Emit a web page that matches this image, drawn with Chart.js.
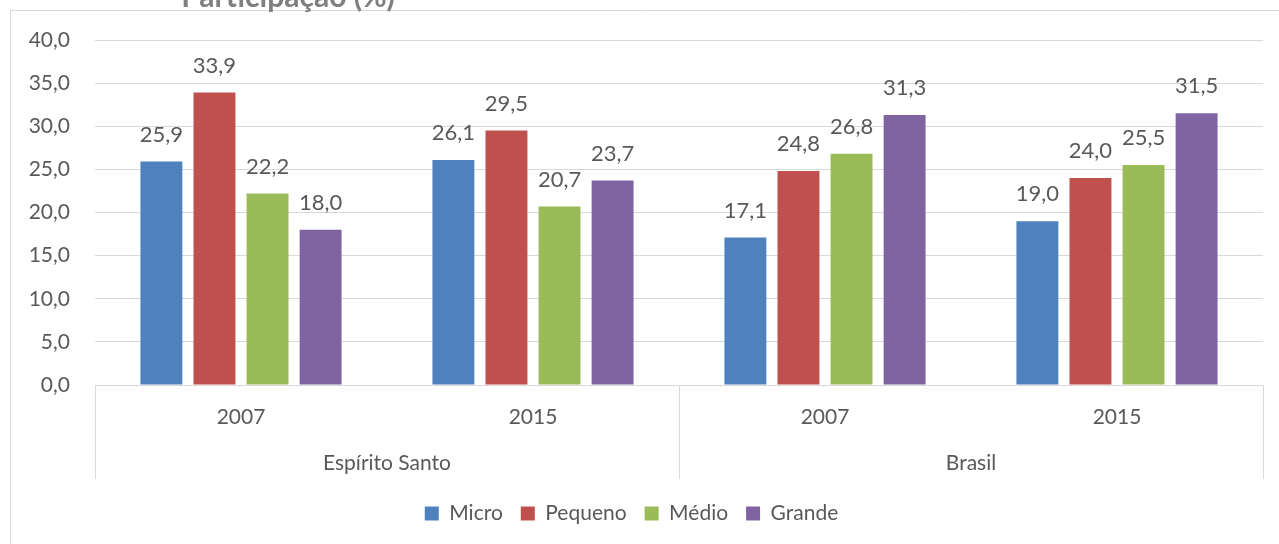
<!DOCTYPE html>
<html>
<head>
<meta charset="utf-8">
<script src="https://cdn.jsdelivr.net/npm/chart.js@4.4.1/dist/chart.umd.min.js"></script>
<style>
  html, body { margin: 0; padding: 0; background: #fff; }
  #wrap { width: 1279px; height: 544px; position: relative; }
</style>
</head>
<body>
<div id="wrap"><canvas id="myChart"></canvas></div>
<script>
// dados do gráfico
var categories = ["2007", "2015", "2007", "2015"];
var groups = ["Espírito Santo", "Brasil"];
var seriesNames = ["Micro", "Pequeno", "Médio", "Grande"];
var micro = [25.9, 26.1, 17.1, 19.0];
var pequeno = [33.9, 29.5, 24.8, 24.0];
var medio = [22.2, 20.7, 26.8, 25.5];
var grande = [18.0, 23.7, 31.3, 31.5];
var yTicks = [0, 5, 10, 15, 20, 25, 30, 35, 40];
var titleText = "Participação (%)";

var colors = ["#4F81BD", "#C0504D", "#9BBB59", "#8064A2"];
var textColor = "#595959";
var lineColor = "#D9D9D9";
var fontFamily = "Lato, 'Open Sans', sans-serif";

function fmt(v) {
  return v.toFixed(1).replace(".", ",");
}

// moldura + título cortado no topo
var framePlugin = {
  id: "frame",
  beforeDraw: function (chart) {
    var c = chart.ctx;
    c.save();
    c.strokeStyle = lineColor;
    c.lineWidth = 1;
    c.beginPath();
    c.moveTo(10.5, chart.height);
    c.lineTo(10.5, 10.5);
    c.lineTo(chart.width, 10.5);
    c.stroke();
    c.fillStyle = "#7F7F7F";
    c.font = "bold 30px " + fontFamily;
    c.textAlign = "center";
    c.textBaseline = "alphabetic";
    c.fillText(titleText, 288, 7);
    c.restore();
  },
};

// rótulos de dados acima das barras
var labelPlugin = {
  id: "barLabels",
  afterDatasetsDraw: function (chart) {
    var c = chart.ctx;
    c.save();
    c.fillStyle = textColor;
    c.font = "22px " + fontFamily;
    c.textAlign = "center";
    c.textBaseline = "middle";
    chart.data.datasets.forEach(function (ds, i) {
      chart.getDatasetMeta(i).data.forEach(function (bar, j) {
        c.fillText(fmt(ds.data[j]), bar.x, bar.y - 27);
      });
    });
    c.restore();
  },
};

// eixo com dois níveis (ano / região)
var groupAxisPlugin = {
  id: "groupAxis",
  afterDraw: function (chart) {
    var x = chart.scales.x;
    var c = chart.ctx;
    var top = chart.chartArea.bottom;
    c.save();
    c.strokeStyle = lineColor;
    c.lineWidth = 1;
    var per = categories.length / groups.length;
    for (var g = 0; g <= groups.length; g++) {
      var px = Math.round(x.getPixelForValue(g * per - 0.5)) + 0.5;
      c.beginPath();
      c.moveTo(px, top);
      c.lineTo(px, top + 94);
      c.stroke();
    }
    c.fillStyle = textColor;
    c.font = "21px " + fontFamily;
    c.textAlign = "center";
    c.textBaseline = "middle";
    groups.forEach(function (name, g) {
      var mid = x.getPixelForValue(g * per + (per - 1) / 2);
      c.fillText(name, mid, top + 78);
    });
    c.restore();
  },
};

var ctx = document.getElementById("myChart").getContext("2d");
var seriesData = [micro, pequeno, medio, grande];

var myChart = new Chart(ctx, {
  type: "bar",
  data: {
    labels: categories,
    datasets: seriesNames.map(function (name, i) {
      return {
        label: name,
        data: seriesData[i],
        backgroundColor: colors[i],
        categoryPercentage: 0.727,
        barPercentage: 0.79,
      };
    }),
  },
  options: {
    responsive: true,
    maintainAspectRatio: false,
    animation: false,
    layout: { padding: { left: 0, top: 40, right: 16, bottom: 10 } },
    plugins: {
      legend: {
        position: "bottom",
        labels: {
          color: textColor,
          font: { family: fontFamily, size: 21 },
          boxWidth: 14,
          boxHeight: 14,
          padding: 18,
        },
      },
      tooltip: { enabled: false },
    },
    scales: {
      x: {
        grid: { display: false },
        border: { display: true, color: lineColor },
        ticks: {
          color: textColor,
          font: { family: fontFamily, size: 21 },
          padding: 12,
        },
        afterFit: function (s) {
          s.height = 100;
        },
      },
      y: {
        min: 0,
        max: 40,
        afterBuildTicks: function (s) {
          s.ticks = yTicks.map(function (v) {
            return { value: v };
          });
        },
        grid: { color: lineColor, drawTicks: false },
        border: { display: false },
        ticks: {
          color: textColor,
          font: { family: fontFamily, size: 21 },
          padding: 25,
          callback: function (v) {
            return fmt(v);
          },
        },
        afterFit: function (s) {
          s.width = 95;
        },
      },
    },
  },
  plugins: [framePlugin, labelPlugin, groupAxisPlugin],
});
</script>
</body>
</html>
